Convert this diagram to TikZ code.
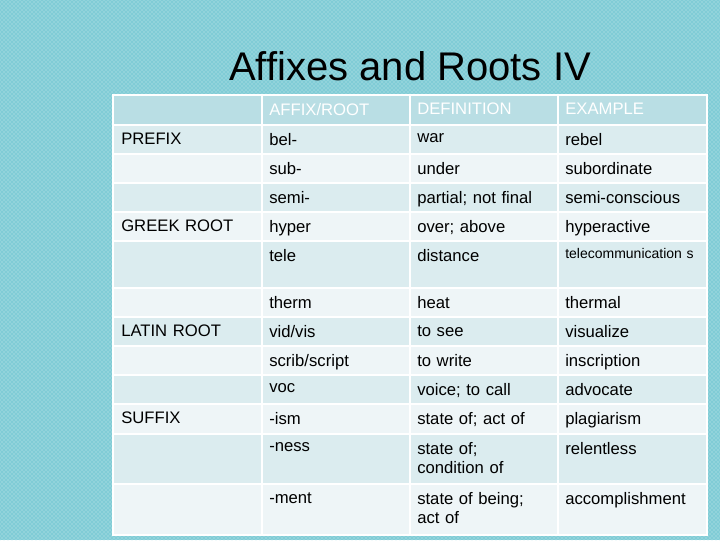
\documentclass[tikz,border=0pt]{standalone}
\usepackage{fontspec}
\setmainfont{Liberation Sans}
\usetikzlibrary{patterns}
\definecolor{bgteal}{RGB}{128,204,214}
\definecolor{headfill}{RGB}{185,222,228}
\definecolor{rowdark}{RGB}{219,236,239}
\definecolor{rowlight}{RGB}{238,245,247}
\tikzset{
  cell/.style={anchor=north west,inner sep=0.75pt,font=\fontsize{12.5}{14}\selectfont,text width=100pt,align=left},
  smallcell/.style={cell,font=\fontsize{10.5}{13.5}\selectfont},
  headcell/.style={cell,text=white}
}
% one row: name, top, bottom, fill, four texts
\newcommand{\affrow}[8]{%
  \fill[#4,draw=white,line width=1.5pt] (113,#2) rectangle (707,#3);
  \foreach \cx in {262,410,558} \draw[white,line width=1.5pt] (\cx,#2) -- (\cx,#3);
  \node[cell] (#1a) at (120,#2+7) {#5};
  \node[cell] (#1b) at (268,#2+7) {#6};
  \node[cell] (#1c) at (416,#2+7) {#7};
  \node[cell] (#1d) at (564,#2+7) {#8};
}
\begin{document}
\begin{tikzpicture}[x=0.75pt,y=0.75pt,yscale=-1,xscale=1]
  \useasboundingbox (0,0) rectangle (720,540);
  \fill[bgteal] (0,0) rectangle (720,540);
  \fill[pattern=crosshatch dots,pattern color=white!60!bgteal] (0,0) rectangle (720,540);

  % Title
  \node[font=\fontsize{30}{34}\selectfont] (title) at (410,66) {Affixes and Roots IV};

  % Header
  \fill[headfill,draw=white,line width=1.5pt] (113,95) rectangle (707,125);
  \foreach \cx in {262,410,558} \draw[white,line width=1.5pt] (\cx,95) -- (\cx,125);
  \node[headcell] (hb) at (268,102) {AFFIX/ROOT};
  \node[headcell] (hc) at (416,102) {DEFINITION};
  \node[headcell] (hd) at (564,102) {EXAMPLE};

  % Rows
  \affrow{bel}{125}{154}{rowdark}{PREFIX}{bel-}{war}{rebel}
  \affrow{sub}{154}{183}{rowlight}{}{sub-}{under}{subordinate}
  \affrow{semi}{183}{212}{rowdark}{}{semi-}{partial; not final}{semi-conscious}
  \affrow{hyp}{212}{241}{rowlight}{GREEK ROOT}{hyper}{over; above}{hyperactive}
  \affrow{tele}{241}{288}{rowdark}{}{tele}{distance}{}
  \node[smallcell,text width=136pt] (teled) at (564,247) {telecommunication s};
  \affrow{therm}{288}{317}{rowlight}{}{therm}{heat}{thermal}
  \affrow{vid}{317}{346}{rowdark}{LATIN ROOT}{vid/vis}{to see}{visualize}
  \affrow{scrib}{346}{375}{rowlight}{}{scrib/script}{to write}{inscription}
  \affrow{voc}{375}{404}{rowdark}{}{voc}{voice; to call}{advocate}
  \affrow{ism}{404}{434}{rowlight}{SUFFIX}{-ism}{state of; act of}{plagiarism}
  \affrow{ness}{434}{484}{rowdark}{}{-ness}{state of;\\condition of}{relentless}
  \affrow{ment}{484}{535}{rowlight}{}{-ment}{state of being;\\act of}{accomplishment}
\end{tikzpicture}
\end{document}
